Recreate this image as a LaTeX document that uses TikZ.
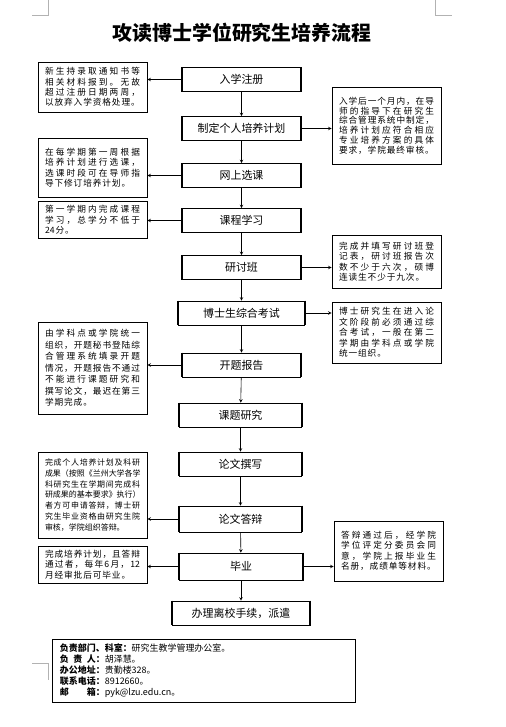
\documentclass[tikz,border=0pt]{standalone}
\usepackage{fontspec}
\setmainfont{Noto Sans CJK SC}
\newlength\sidew
\setlength\sidew{95bp}
% 两端对齐的一行：字间加弹性空白；末行：字间加固定空白
\makeatletter
\newcommand\jl[1]{\makebox[\sidew][s]{\@tfor\ch:=#1\do{\ch\hfill}\unskip}}
\newcommand\lastl[1]{\mbox{\@tfor\ch:=#1\do{\ch\hskip0.9bp}}}
\makeatother
\newcommand\lab[1]{\textbf{\makebox[4em][s]{#1}：}}
\begin{document}
\begin{tikzpicture}[x=1bp, y=-1bp, >=stealth,
    mainbox/.style={draw, line width=0.6pt, minimum width=118bp, minimum height=24bp,
        inner sep=2bp, font=\fontsize{11}{13}\selectfont},
    sidebox/.style={draw, line width=0.7pt, text width=\sidew, inner xsep=7bp,
        inner ysep=4bp, align=left, font=\fontsize{8.7}{10.5}\selectfont},
    flow/.style={->, line width=0.6pt},
    cornerline/.style={gray!60, line width=0.5pt}]
    \fill[white] (0,0) rectangle (506,727);
    \useasboundingbox (0,0) rectangle (506,727);

    % 页边角标
    \draw[cornerline] (32,15) -- (48,15) -- (48,0);
    \draw[cornerline] (435.7,0) -- (435.7,15) -- (451.7,15);
    \draw[cornerline] (32,663) -- (48,663) -- (48,680);

    % 标题
    \node[font=\fontsize{20}{24}\selectfont\bfseries] (title) at (242,33) {攻读博士学位研究生培养流程};

    % 主流程
    \node[mainbox] (zc) at (241.5,79.5) {入学注册};
    \node[mainbox] (jh) at (241.5,128.5) {制定个人培养计划};
    \node[mainbox] (xk) at (241.5,175.5) {网上选课};
    \node[mainbox] (kc) at (241.5,220.5) {课程学习};
    \node[mainbox] (ytb) at (241.5,267.5) {研讨班};
    \node[mainbox, minimum width=126bp] (zk) at (241.5,313) {博士生综合考试};
    \node[mainbox] (kt) at (241.5,365) {开题报告};
    \node[mainbox, minimum width=122bp] (yj) at (240.5,415) {课题研究};
    \node[mainbox, minimum width=122bp] (zx) at (240.5,464) {论文撰写};
    \node[mainbox, minimum width=122bp, minimum height=26bp] (db) at (240.5,519) {论文答辩};
    \node[mainbox, minimum width=124bp, minimum height=27bp] (by) at (241,566.5) {毕业};
    \node[mainbox, minimum width=138bp] (lx) at (241,613) {办理离校手续，派遣};

    % 主框左右粗边
    \foreach \n in {zc,jh,xk,kc,ytb,zk,kt,yj,zx,db,by,lx}
        \draw[line width=2.2pt] (\n.north west) -- (\n.south west) (\n.north east) -- (\n.south east);

    % 主流程箭头
    \foreach \a/\b in {zc/jh,jh/xk,xk/kc,kc/ytb,ytb/zk,zk/kt,kt/yj,yj/zx,zx/db,db/by,by/lx}
        \draw[flow] (\a) -- (\b);

    % 左侧说明
    \node[sidebox, minimum height=50bp] (s1) at (92.5,87) {\jl{新生持录取通知书等}\\\jl{相关材料报到。无故}\\\jl{超过注册日期两周，}\\\lastl{以放弃入学资格处理。}};
    \node[sidebox, minimum height=59bp] (s3) at (92.5,167.5) {\jl{在每学期第一周根据}\\\jl{培养计划进行选课，}\\\jl{选课时段可在导师指}\\\lastl{导下修订培养计划。}};
    \node[sidebox, minimum height=36bp] (s4) at (92.5,220) {\jl{第一学期内完成课程}\\\jl{学习，总学分不低于}\\\lastl{{24}分。}};
    \node[sidebox, minimum height=92bp, font=\fontsize{8.7}{11.5}\selectfont] (s7) at (92.5,368) {\jl{由学科点或学院统一}\\\jl{组织，开题秘书登陆综}\\\jl{合管理系统填录开题}\\\jl{情况，开题报告不通过}\\\jl{不能进行课题研究和}\\\jl{撰写论文，最迟在第三}\\\lastl{学期完成。}};
    \node[sidebox, minimum height=86bp, font=\fontsize{8}{11}\selectfont] (s8) at (92.5,495) {\jl{完成个人培养计划及科研}\\\jl{成果（按照《兰州大学各学}\\\jl{科研究生在学期间完成科}\\\jl{研成果的基本要求》执行）}\\\jl{者方可申请答辩，博士研}\\\jl{究生毕业资格由研究生院}\\审核，学院组织答辩。};
    \node[sidebox, minimum height=37bp] (s10) at (92.5,564.5) {\jl{完成培养计划，且答辩}\\\jl{通过者，每年{6}月，{12}}\\\lastl{月经审批后可毕业。}};

    % 右侧说明
    \node[sidebox, minimum height=77bp, font=\fontsize{8.7}{9.8}\selectfont] (s2) at (386.5,125.5) {\jl{入学后一个月内，在导}\\\jl{师的指导下在研究生}\\\jl{综合管理系统中制定，}\\\jl{培养计划应符合相应}\\\jl{专业培养方案的具体}\\\lastl{要求，学院最终审核。}};
    \node[sidebox, minimum height=53bp] (s5) at (386.5,261.5) {\jl{完成并填写研讨班登}\\\jl{记表，研讨班报告次}\\\jl{数不少于六次，硕博}\\\lastl{连读生不少于九次。}};
    \node[sidebox, minimum height=61bp] (s6) at (386.5,332.5) {\jl{博士研究生在进入论}\\\jl{文阶段前必须通过综}\\\jl{合考试，一般在第二}\\\jl{学期由学科点或学院}\\\lastl{统一组织。}};
    \node[sidebox, minimum height=60bp] (s9) at (388.5,551) {\jl{答辩通过后，经学院}\\\jl{学位评定分委员会同}\\\jl{意，学院上报毕业生}\\\lastl{名册，成绩单等材料。}};

    % 指向说明的箭头
    \draw[flow] (zc.west) -- (zc.west -| s1.east);
    \draw[flow] (jh.east) -- (jh.east -| s2.west);
    \draw[flow] (xk.west) -- (xk.west -| s3.east);
    \draw[flow] (kc.west) -- (kc.west -| s4.east);
    \draw[flow] (ytb.east) -- (ytb.east -| s5.west);
    \draw[flow] (zk.east) -- (zk.east -| s6.west);
    \draw[flow] (kt.west) -- (kt.west -| s7.east);
    \draw[flow] (db.west) -- (db.west -| s8.east);
    \draw[flow] (by.east) -- (by.east -| s9.west);
    \draw[flow] (by.west) -- (by.west -| s10.east);

    % 联系方式
    \node[draw, line width=0.8pt, minimum width=303bp, minimum height=63bp, text width=287bp,
        align=left, font=\fontsize{9}{11}\selectfont] (info) at (203.5,670.5)
        {\textbf{负责部门、科室：}研究生教学管理办公室。\\
         \lab{负\hfill 责\hfill 人}胡泽慧。\\
         \lab{办公地址}贵勤楼328。\\
         \lab{联系电话}8912660。\\
         \lab{邮\hfill 箱}pyk@lzu.edu.cn。};
\end{tikzpicture}
\end{document}
